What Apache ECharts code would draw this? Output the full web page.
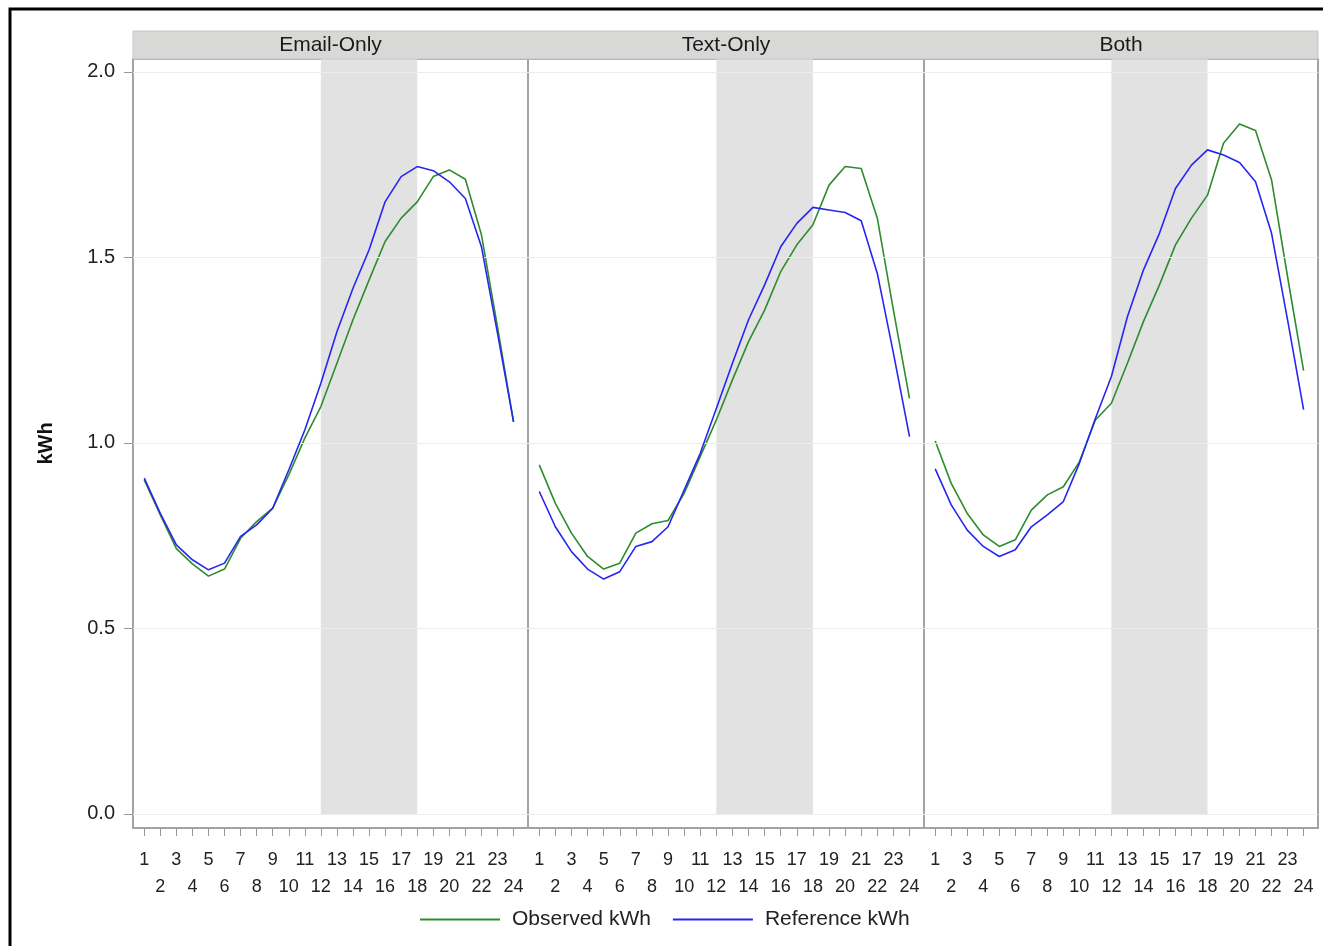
<!DOCTYPE html>
<html>
<head>
<meta charset="utf-8">
<script src="https://cdn.jsdelivr.net/npm/echarts@6/dist/echarts.min.js"></script>
<style>
  html, body { margin: 0; padding: 0; background: #fff; }
  #chart { width: 1323px; height: 946px; }
</style>
</head>
<body>
<div id="chart"></div>
<script>
// hours of the day
const hours = [1, 2, 3, 4, 5, 6, 7, 8, 9, 10, 11, 12, 13, 14, 15, 16, 17, 18, 19, 20, 21, 22, 23, 24];
// tick labels: odd hours on the first row, even hours on the second
const oddHours = [1, 3, 5, 7, 9, 11, 13, 15, 17, 19, 21, 23];
const evenHours = [2, 4, 6, 8, 10, 12, 14, 16, 18, 20, 22, 24];
const panels = ['Email-Only', 'Text-Only', 'Both'];
const yTicks = [0, 0.5, 1, 1.5, 2];
// shaded event window
const bandStart = 12;
const bandEnd = 18;

// Email-Only
const emailObserved = [0.90, 0.806, 0.715, 0.674, 0.641, 0.660, 0.743, 0.788, 0.824, 0.914, 1.013, 1.098,
  1.215, 1.332, 1.439, 1.543, 1.606, 1.650, 1.718, 1.736, 1.711, 1.561, 1.313, 1.057];
const emailReference = [0.905, 0.810, 0.725, 0.685, 0.658, 0.676, 0.748, 0.779, 0.824, 0.927, 1.035, 1.161,
  1.300, 1.417, 1.520, 1.650, 1.718, 1.745, 1.734, 1.704, 1.659, 1.529, 1.296, 1.057];
// Text-Only
const textObserved = [0.941, 0.837, 0.757, 0.694, 0.660, 0.676, 0.757, 0.782, 0.791, 0.864, 0.963, 1.062,
  1.170, 1.273, 1.358, 1.462, 1.534, 1.588, 1.695, 1.745, 1.740, 1.606, 1.358, 1.120];
const textReference = [0.869, 0.774, 0.707, 0.660, 0.633, 0.653, 0.721, 0.734, 0.774, 0.873, 0.972, 1.093,
  1.215, 1.332, 1.426, 1.529, 1.592, 1.635, 1.628, 1.621, 1.599, 1.457, 1.242, 1.017];
// Both
const bothObserved = [1.005, 0.891, 0.810, 0.752, 0.721, 0.739, 0.819, 0.860, 0.882, 0.949, 1.062, 1.107,
  1.215, 1.327, 1.426, 1.534, 1.606, 1.668, 1.808, 1.860, 1.842, 1.709, 1.448, 1.195];
const bothReference = [0.930, 0.833, 0.765, 0.721, 0.694, 0.712, 0.774, 0.806, 0.842, 0.945, 1.066, 1.179,
  1.340, 1.466, 1.565, 1.686, 1.749, 1.790, 1.776, 1.756, 1.704, 1.565, 1.332, 1.090];

const observed = [emailObserved, textObserved, bothObserved];
const reference = [emailReference, textReference, bothReference];

const GREEN = '#2e8b2e';
const BLUE = '#2626f2';
const Y_MIN = -0.038;
const Y_MAX = 2.035;
const X_MIN = 0.3;
const X_MAX = 24.9;
const font = 'Liberation Sans, Arial, sans-serif';

const gridBoxes = [
  { left: 133, width: 395 },
  { left: 528, width: 396 },
  { left: 924, width: 394 }
];

function pairs(values) {
  return hours.map((h, i) => [h, values[i]]);
}

let grids = [], xAxes = [], yAxes = [], series = [];
gridBoxes.forEach((g, i) => {
  grids.push({
    left: g.left, width: g.width, top: 59, height: 769,
    show: true, borderColor: '#a3a3a3', borderWidth: 2, backgroundColor: '#fff'
  });
  // axis with all the ticks and the odd labels (index 2*i)
  xAxes.push({
    gridIndex: i, type: 'value', min: X_MIN, max: X_MAX, position: 'bottom',
    axisLine: { show: false, onZero: false },
    splitLine: { show: false },
    axisTick: { show: true, length: 8, customValues: hours, lineStyle: { color: '#9a9a9a', width: 1 } },
    axisLabel: {
      customValues: oddHours, margin: 23,
      showMinLabel: true, showMaxLabel: true,
      fontFamily: font, fontSize: 18, color: '#222'
    }
  });
  // second row of labels (index 2*i+1)
  xAxes.push({
    gridIndex: i, type: 'value', min: X_MIN, max: X_MAX, position: 'bottom',
    axisLine: { show: false, onZero: false },
    splitLine: { show: false },
    axisTick: { show: false },
    axisLabel: {
      customValues: evenHours, margin: 50,
      showMinLabel: true, showMaxLabel: true,
      fontFamily: font, fontSize: 18, color: '#222'
    }
  });
  yAxes.push({
    gridIndex: i, type: 'value', min: Y_MIN, max: Y_MAX,
    name: i === 0 ? 'kWh' : '',
    nameLocation: 'middle', nameGap: 77, nameRotate: 90,
    nameTextStyle: { fontFamily: font, fontSize: 20, fontWeight: 'bold', color: '#111' },
    axisLine: { show: false },
    splitLine: { show: false },
    axisTick: { show: i === 0, length: 9, customValues: yTicks, lineStyle: { color: '#9a9a9a' } },
    axisLabel: {
      show: i === 0, customValues: yTicks, margin: 18,
      showMinLabel: true, showMaxLabel: true,
      fontFamily: font, fontSize: 20, color: '#222',
      formatter: v => v.toFixed(1)
    }
  });
  const xi = 2 * i;
  // faint reference lines
  series.push({
    type: 'line', xAxisIndex: xi, yAxisIndex: i, data: [], silent: true, z: 1,
    markLine: {
      silent: true, symbol: 'none', label: { show: false },
      lineStyle: { color: '#ececec', type: 'solid', width: 1 },
      data: yTicks.map(v => ({ yAxis: v }))
    }
  });
  // shaded window
  series.push({
    type: 'line', xAxisIndex: xi, yAxisIndex: i, data: [], silent: true, z: 2,
    markArea: {
      silent: true,
      itemStyle: { color: '#e2e2e2' },
      data: [[{ xAxis: bandStart, yAxis: 0 }, { xAxis: bandEnd, yAxis: Y_MAX }]]
    }
  });
  series.push({
    name: 'Observed kWh', type: 'line', xAxisIndex: xi, yAxisIndex: i, z: 4,
    data: pairs(observed[i]), showSymbol: false, symbol: 'none',
    lineStyle: { color: GREEN, width: 1.6 }, itemStyle: { color: GREEN }
  });
  series.push({
    name: 'Reference kWh', type: 'line', xAxisIndex: xi, yAxisIndex: i, z: 5,
    data: pairs(reference[i]), showSymbol: false, symbol: 'none',
    lineStyle: { color: BLUE, width: 1.6 }, itemStyle: { color: BLUE }
  });
});

let graphics = [
  { type: 'rect', shape: { x: 133, y: 31, width: 1185, height: 28 },
    style: { fill: '#d8d9d6', stroke: '#c6c6c6', lineWidth: 1 }, z: 10 },
  { type: 'rect', shape: { x: 10, y: 9, width: 1340, height: 960 },
    style: { fill: 'none', stroke: '#000', lineWidth: 3 }, z: 10 }
];
panels.forEach((p, i) => {
  graphics.push({
    type: 'text', z: 11,
    x: gridBoxes[i].left + gridBoxes[i].width / 2, y: 45,
    style: { text: p, fontFamily: font, fontSize: 21, fill: '#1a1a1a', align: 'center', verticalAlign: 'middle' }
  });
});

const chart = echarts.init(document.getElementById('chart'), null, { renderer: 'canvas' });
chart.setOption({
  animation: false,
  backgroundColor: '#fff',
  grid: grids,
  xAxis: xAxes,
  yAxis: yAxes,
  legend: {
    data: ['Observed kWh', 'Reference kWh'],
    left: 415, top: 904,
    itemWidth: 80, itemHeight: 2, itemGap: 22,
    icon: 'rect',
    textStyle: { fontFamily: font, fontSize: 21, color: '#222', padding: [0, 0, 0, 7] }
  },
  graphic: graphics,
  series: series
});
</script>
</body>
</html>
